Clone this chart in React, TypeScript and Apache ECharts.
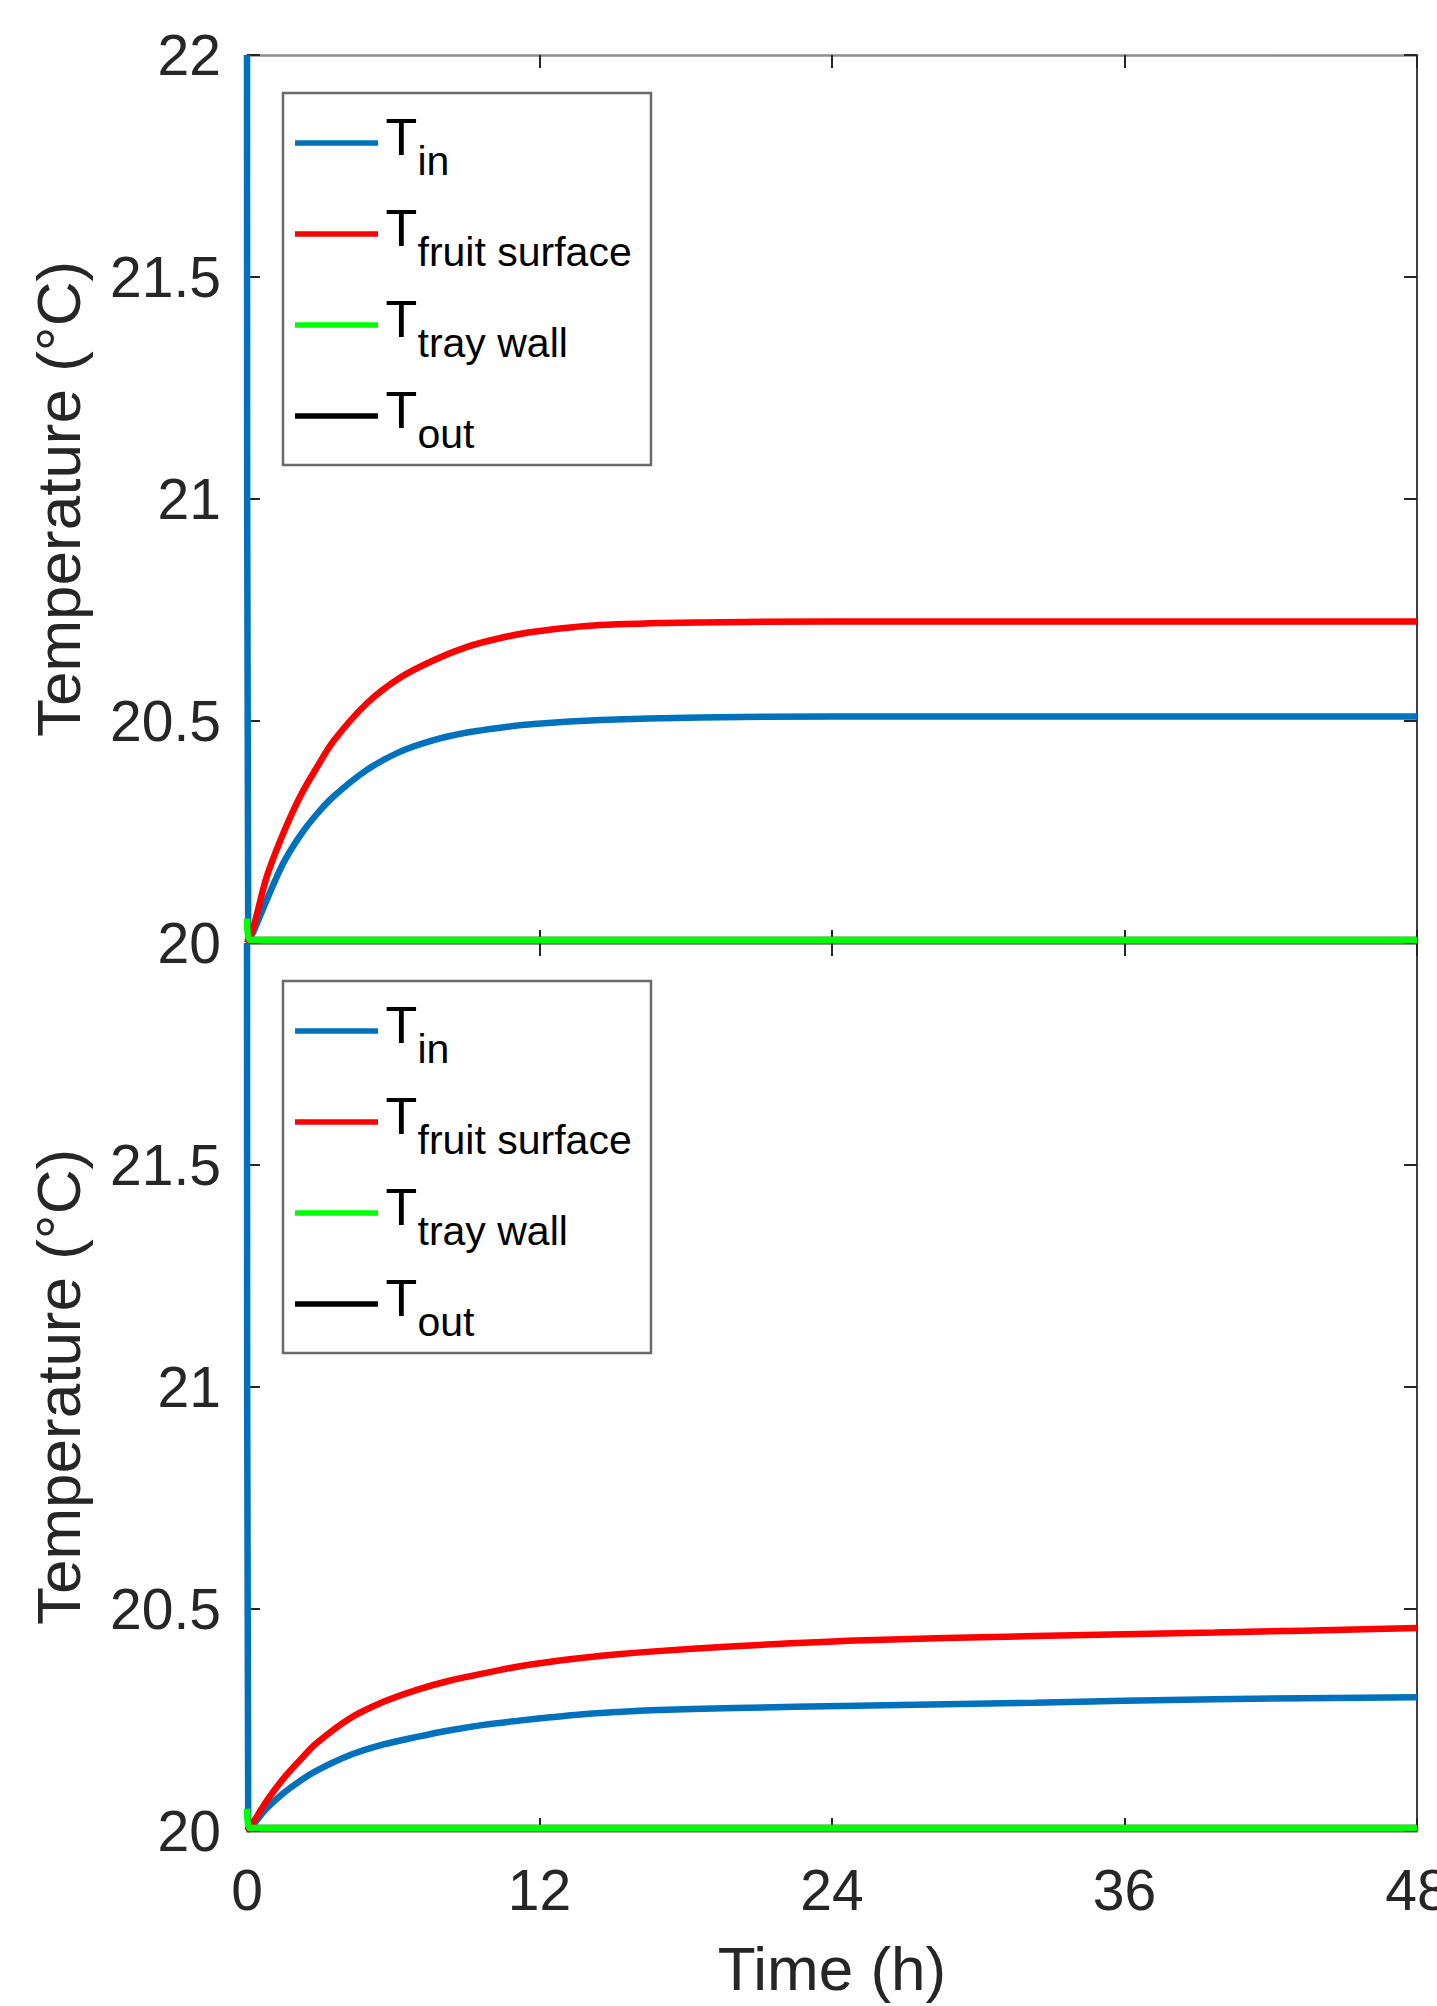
import React, { useEffect, useRef } from "react";
import * as echarts from "echarts";

// ---------- data ----------
const xTickValues = [0, 12, 24, 36, 48];
const yTickValues = [20, 20.5, 21, 21.5, 22];
const legendSubscripts = ["in", "fruit surface", "tray wall", "out"];
const seriesColors = ["#0072BD", "#FF0000", "#00FF00", "#000000"];

// Top panel
const topTinTime = [0, 0.05, 0.26, 0.81, 1.49, 2.18, 2.86, 3.55, 4.92, 6.29, 7.66, 9.03, 10.4, 11.77, 14.5, 18.6, 24, 30, 36, 42, 48];
const topTinValue = [22, 20.005, 20.025, 20.097, 20.18, 20.242, 20.29, 20.33, 20.39, 20.431, 20.457, 20.474, 20.485, 20.493, 20.502, 20.508, 20.51, 20.51, 20.51, 20.51, 20.51];
const topFruitTime = [0, 0.26, 0.81, 1.49, 2.18, 2.86, 3.55, 4.92, 6.29, 7.66, 9.03, 10.4, 11.77, 14.5, 18.6, 24, 30, 36, 42, 48];
const topFruitValue = [20, 20.035, 20.149, 20.247, 20.33, 20.395, 20.455, 20.54, 20.598, 20.637, 20.667, 20.687, 20.701, 20.716, 20.722, 20.724, 20.724, 20.724, 20.724, 20.724];
const topTrayTime = [0, 0.1, 12, 24, 36, 48];
const topTrayValue = [20.055, 20.007, 20.007, 20.007, 20.007, 20.007];
const topOutTime = [0, 12, 24, 36, 48];
const topOutValue = [20.007, 20.007, 20.007, 20.007, 20.007];

// Bottom panel
const botTinTime = [0, 0.05, 0.26, 0.81, 1.49, 2.18, 2.86, 4.23, 5.6, 6.97, 8.34, 9.71, 11.08, 12.45, 13.8, 15.2, 16.56, 20, 25, 32.3, 39.7, 48];
const botTinValue = [22, 20.005, 20.015, 20.051, 20.085, 20.113, 20.136, 20.171, 20.195, 20.212, 20.227, 20.239, 20.248, 20.256, 20.263, 20.268, 20.272, 20.277, 20.282, 20.289, 20.297, 20.301];
const botFruitTime = [0, 0.26, 0.81, 1.49, 2.18, 2.86, 4.23, 5.6, 6.97, 8.34, 9.71, 11.08, 12.45, 13.8, 15.2, 16.56, 20, 25, 32.3, 39.7, 48];
const botFruitValue = [20, 20.02, 20.068, 20.118, 20.16, 20.198, 20.254, 20.291, 20.318, 20.339, 20.355, 20.37, 20.381, 20.39, 20.398, 20.404, 20.416, 20.429, 20.439, 20.447, 20.457];
const botTrayTime = [0, 0.1, 12, 24, 36, 48];
const botTrayValue = [20.05, 20.007, 20.007, 20.007, 20.007, 20.007];
const botOutTime = [0, 12, 24, 36, 48];
const botOutValue = [20.007, 20.007, 20.007, 20.007, 20.007];

// ---------- layout ----------
const FONT = '"Liberation Sans", Arial, Helvetica, sans-serif';
const GRID_LEFT = 247;
const GRID_WIDTH = 1170;
const GRID_HEIGHT = 888;
const GRID_TOPS = [55, 943];

const zip = (t: number[], v: number[]) => t.map((x, i) => [x, v[i]]);

function legendGraphic(panelTop: number) {
  const boxTop = panelTop + 38;
  const els: any[] = [
    {
      type: "rect",
      z: 100,
      shape: { x: 283, y: boxTop, width: 368, height: 372 },
      style: { fill: "#ffffff", stroke: "#6a6a6a", lineWidth: 2.5 },
    },
  ];
  legendSubscripts.forEach((sub, i) => {
    const ly = boxTop + 50 + i * 91;
    els.push({
      type: "line",
      z: 101,
      shape: { x1: 295, y1: ly, x2: 378, y2: ly },
      style: { stroke: seriesColors[i], lineWidth: 5.5 },
    });
    els.push({
      type: "text",
      z: 101,
      x: 385.5,
      y: ly - 6,
      style: { text: "T", fontSize: 52, fontFamily: FONT, fill: "#000", verticalAlign: "middle", align: "left" },
    });
    els.push({
      type: "text",
      z: 101,
      x: 417.5,
      y: ly + 18,
      style: { text: sub, fontSize: 41, fontFamily: FONT, fill: "#000", verticalAlign: "middle", align: "left" },
    });
  });
  return els;
}

function xAxes(gridIndex: number, showLabels: boolean) {
  const base = {
    type: "value",
    gridIndex,
    min: 0,
    max: 48,
    interval: 12,
    splitLine: { show: false },
    axisLine: { show: true, onZero: false, lineStyle: { color: "#8c8c8c", width: 2.5 } },
    axisTick: { show: true, inside: true, length: 13, lineStyle: { color: "#262626", width: 2 } },
  };
  return [
    {
      ...base,
      position: "bottom",
      axisLabel: {
        show: showLabels,
        fontSize: 57,
        fontFamily: FONT,
        color: "#262626",
        margin: 30,
        formatter: (v: number) => (xTickValues.includes(v) ? String(v) : ""),
      },
      name: showLabels ? "Time (h)" : "",
      nameLocation: "middle",
      nameGap: 106,
      nameTextStyle: { fontSize: 62, fontFamily: FONT, color: "#262626" },
    },
    { ...base, position: "top", axisLabel: { show: false } },
  ];
}

function yAxes(gridIndex: number, hideMax: boolean) {
  const base = {
    type: "value",
    gridIndex,
    min: 20,
    max: 22,
    interval: 0.5,
    splitLine: { show: false },
    axisTick: { show: true, inside: true, length: 13, lineStyle: { color: "#262626", width: 2 } },
  };
  return [
    {
      ...base,
      position: "left",
      // the left frame line is fully covered by the T_in start-up spike
      axisLine: { show: false, onZero: false },
      axisLabel: {
        show: true,
        fontSize: 57,
        fontFamily: FONT,
        color: "#262626",
        margin: 26,
        formatter: (v: number) =>
          yTickValues.includes(v) && !(hideMax && v === 22) ? String(v) : "",
      },
      name: "Temperature (°C)",
      nameLocation: "middle",
      nameGap: 158,
      nameTextStyle: { fontSize: 62, fontFamily: FONT, color: "#262626" },
    },
    {
      ...base,
      position: "right",
      axisLine: { show: true, onZero: false, lineStyle: { color: "#404040", width: 2 } },
      axisLabel: { show: false },
    },
  ];
}

function lineSeries(name: string, color: string, data: number[][], gridIdx: number, z: number) {
  return {
    type: "line",
    name,
    data,
    z,
    xAxisIndex: gridIdx * 2,
    yAxisIndex: gridIdx * 2,
    showSymbol: false,
    symbol: "none",
    smooth: 0.3,
    lineStyle: { color, width: 6.5, cap: "butt" },
    itemStyle: { color },
    clip: false,
  };
}

export default function App() {
  const ref = useRef<HTMLDivElement>(null);
  useEffect(() => {
    if (!ref.current) return;
    const chart = echarts.init(ref.current, undefined, { renderer: "svg" });
    const panels = [
      { tin: zip(topTinTime, topTinValue), fruit: zip(topFruitTime, topFruitValue), tray: zip(topTrayTime, topTrayValue), out: zip(topOutTime, topOutValue) },
      { tin: zip(botTinTime, botTinValue), fruit: zip(botFruitTime, botFruitValue), tray: zip(botTrayTime, botTrayValue), out: zip(botOutTime, botOutValue) },
    ];
    const series: any[] = [];
    panels.forEach((p, g) => {
      series.push(lineSeries("T_out", seriesColors[3], p.out, g, 5));
      series.push(lineSeries("T_in", seriesColors[0], p.tin, g, 6));
      series.push(lineSeries("T_fruit surface", seriesColors[1], p.fruit, g, 7));
      series.push(lineSeries("T_tray wall", seriesColors[2], p.tray, g, 8));
    });
    chart.setOption({
      animation: false,
      backgroundColor: "#ffffff",
      textStyle: { fontFamily: FONT },
      grid: GRID_TOPS.map((top) => ({
        left: GRID_LEFT,
        top,
        width: GRID_WIDTH,
        height: GRID_HEIGHT,
        containLabel: false,
        outerBoundsMode: "none",
      })),
      xAxis: [...xAxes(0, false), ...xAxes(1, true)],
      yAxis: [...yAxes(0, false), ...yAxes(1, true)],
      series,
      graphic: [...legendGraphic(GRID_TOPS[0]), ...legendGraphic(GRID_TOPS[1])],
    });
    return () => chart.dispose();
  }, []);
  return (
    <div
      ref={ref}
      style={{ position: "absolute", left: 0, top: 0, width: 1437, height: 2006, background: "#fff" }}
    />
  );
}
